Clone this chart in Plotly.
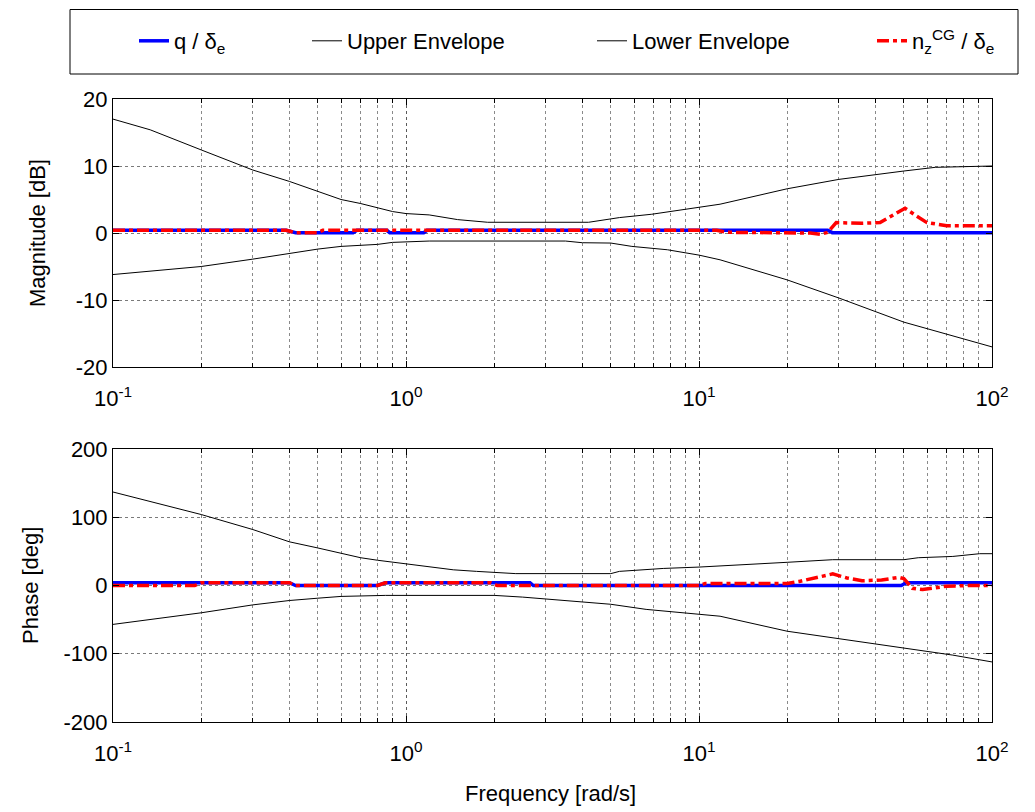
import plotly.graph_objects as go

# ---------------- data ----------------
# Magnitude [dB]
mag_upper_f = [0.1, 0.134, 0.2, 0.3, 0.4, 0.5, 0.6, 0.7, 0.8, 0.9, 1.0, 1.2, 1.5, 1.9, 4.2, 5.35, 6.9, 8.6, 10, 11.8, 20, 30, 50, 64, 100]
mag_upper = [17.0, 15.4, 12.4, 9.4, 7.7, 6.2, 5.0, 4.4, 3.8, 3.2, 2.9, 2.7, 2.0, 1.6, 1.6, 2.3, 2.8, 3.4, 3.8, 4.3, 6.6, 8.0, 9.25, 9.8, 10.0]

mag_lower_f = [0.1, 0.2, 0.3, 0.4, 0.5, 0.6, 0.8, 0.9, 1.2, 3.5, 4.0, 5.0, 5.9, 7.8, 10, 11.8, 20, 30, 50, 100]
mag_lower = [-6.2, -5.0, -3.9, -3.0, -2.4, -2.0, -1.7, -1.4, -1.2, -1.2, -1.45, -1.5, -2.0, -2.5, -3.3, -4.0, -7.0, -9.7, -13.3, -17.0]

mag_q_f = [0.1, 0.39, 0.42, 0.66, 0.68, 0.86, 0.88, 1.15, 1.18, 27.5, 28.5, 100]
mag_q = [0.4, 0.4, 0.05, 0.05, 0.4, 0.4, 0.05, 0.05, 0.4, 0.4, 0.05, 0.05]

mag_nz_f = [0.1, 0.39, 0.42, 0.5, 0.52, 11.5, 12.5, 20, 24, 26, 27.5, 29.4, 36, 41.5, 46, 50.5, 55, 60, 70, 100]
mag_nz = [0.4, 0.4, 0.05, 0.05, 0.4, 0.4, 0.1, 0.05, 0.0, -0.2, 0.1, 1.55, 1.45, 1.55, 2.6, 3.7, 2.6, 1.55, 1.1, 1.1]

# Phase [deg]
ph_upper_f = [0.1, 0.2, 0.3, 0.4, 0.5, 0.6, 0.7, 0.8, 1.0, 1.2, 1.45, 1.74, 2.37, 5.0, 5.35, 7.55, 10, 20, 28.6, 50, 56, 73.5, 90.8, 100]
ph_upper = [137, 104, 82, 64, 55, 47.5, 40.7, 37, 32, 27, 23, 20.7, 17.4, 17.4, 20.7, 25, 27, 34, 37.8, 37.8, 40.7, 42.6, 46.6, 46.6]

ph_lower_f = [0.1, 0.2, 0.3, 0.4, 0.5, 0.6, 0.85, 2.0, 2.5, 3.0, 3.55, 5.0, 6.6, 10, 11.8, 20, 30, 50, 73.5, 100]
ph_lower = [-57, -40, -28.4, -22, -18.6, -16, -14.5, -14.5, -17, -20, -22.7, -27.5, -35, -42, -45, -67, -78, -92, -102, -112]

ph_q_f = [0.1, 0.4, 0.42, 0.8, 0.85, 2.65, 2.72, 49, 51, 100]
ph_q = [4, 4, 0, 0, 4, 4, 0, 0, 4, 4]

ph_nz_f = [0.1, 0.19, 0.2, 0.4, 0.42, 0.8, 0.85, 1.95, 2.05, 10, 10.5, 20, 22, 28.6, 32, 36, 42, 48, 50, 53.5, 58, 70, 85, 100]
ph_nz = [0, 0, 4, 4, 0, 0, 4, 4, 0, 0, 3, 3, 6, 17, 11, 7, 8, 12, 10, -4, -6, -1, 0, 0]

# labels
names = ["q / δ<sub>e</sub>", "Upper Envelope", "Lower Envelope", "n<sub>z</sub><sup>CG</sup> / δ<sub>e</sub>"]
x_tickvals = [0.1, 1, 10, 100]
x_ticktext = ["10<sup>-1</sup>", "10<sup>0</sup>", "10<sup>1</sup>", "10<sup>2</sup>"]
x_minor = [m * d for d in (0.1, 1, 10) for m in range(2, 10)]
mag_ticks = [-20, -10, 0, 10, 20]
ph_ticks = [-200, -100, 0, 100, 200]
x_title = "Frequency [rad/s]"
mag_title = "Magnitude [dB]"
ph_title = "Phase [deg]"

FONT = "Arial, Liberation Sans, sans-serif"
BLUE = "#0000FF"
RED = "#FF0000"

fig = go.Figure()

legend_ids = ["legend", "legend2", "legend3", "legend4"]

def add_set(fq, q, fu, u, fl, l, fn, n, xa, ya, show):
    fig.add_trace(go.Scatter(x=fq, y=q, mode="lines", name=names[0], xaxis=xa, yaxis=ya,
                             line=dict(color=BLUE, width=3.5), showlegend=show, legend=legend_ids[0]))
    fig.add_trace(go.Scatter(x=fu, y=u, mode="lines", name=names[1], xaxis=xa, yaxis=ya,
                             line=dict(color="black", width=1), showlegend=show, legend=legend_ids[1]))
    fig.add_trace(go.Scatter(x=fl, y=l, mode="lines", name=names[2], xaxis=xa, yaxis=ya,
                             line=dict(color="black", width=1), showlegend=show, legend=legend_ids[2]))
    fig.add_trace(go.Scatter(x=fn, y=n, mode="lines", name=names[3], xaxis=xa, yaxis=ya,
                             line=dict(color=RED, width=3.5, dash="12px,4px,4px,4px"),
                             showlegend=show, legend=legend_ids[3]))

add_set(mag_q_f, mag_q, mag_upper_f, mag_upper, mag_lower_f, mag_lower, mag_nz_f, mag_nz, "x", "y", True)
add_set(ph_q_f, ph_q, ph_upper_f, ph_upper, ph_lower_f, ph_lower, ph_nz_f, ph_nz, "x2", "y2", False)

# page offset (default body margin of the html page)
OFF = 8
W, H = 1035, 812
# desired screen positions of the plot area
SX0, SX1, SY0, SY1 = 113, 992, 99, 722
L = SX0 - OFF
T = SY0 - OFF
pw = SX1 - SX0
ph = SY1 - SY0
R = W - L - pw
B = H - T - ph

def py(spix):  # screen pixel y -> paper y
    return 1 + (SY0 - spix) / ph

def px(spix):  # screen pixel x -> paper x
    return (spix - SX0) / pw

xaxis_common = dict(
    type="log", range=[-1, 2], tickmode="array", tickvals=x_tickvals, ticktext=x_ticktext,
    ticks="inside", ticklen=6, tickcolor="black", showline=True, linecolor="black", linewidth=1,
    mirror="allticks", showgrid=True, gridcolor="#5a5a5a", griddash="dot", gridwidth=1,
    zeroline=False, tickfont=dict(family=FONT, size=22, color="black"), automargin=False,
    ticklabelstandoff=12,
    minor=dict(tickmode="array", tickvals=x_minor, ticks="inside", ticklen=4, tickcolor="black",
               showgrid=True, gridcolor="#8a8a8a", griddash="dot", gridwidth=1),
)
yaxis_common = dict(
    ticks="inside", ticklen=6, tickcolor="black", showline=True, linecolor="black", linewidth=1,
    mirror="allticks", showgrid=True, gridcolor="#7a7a7a", griddash="dot", zeroline=False,
    tickfont=dict(family=FONT, size=22, color="black"), automargin=False, tickmode="array",
)

top_lo = (SY1 - 367) / ph
bot_hi = (SY1 - 449) / ph

fig.update_layout(
    width=W, height=H, margin=dict(l=L, r=R, t=T, b=B, autoexpand=False),
    paper_bgcolor="white", plot_bgcolor="white",
    font=dict(family=FONT, size=22, color="black"),
    xaxis=dict(xaxis_common, domain=[0, 1], anchor="y"),
    yaxis=dict(yaxis_common, domain=[top_lo, 1], range=[-20, 20], tickvals=mag_ticks,
               ticktext=[str(v) for v in mag_ticks], anchor="x"),
    xaxis2=dict(xaxis_common, domain=[0, 1], anchor="y2"),
    yaxis2=dict(yaxis_common, domain=[0, bot_hi], range=[-200, 200], tickvals=ph_ticks,
                ticktext=[str(v) for v in ph_ticks], anchor="x2"),
    showlegend=True,
)

# axis titles placed as annotations at the reference positions
fig.add_annotation(text=mag_title, xref="paper", yref="paper", x=px(38), y=py(233),
                   textangle=-90, showarrow=False, xanchor="center", yanchor="middle",
                   font=dict(family=FONT, size=22, color="black"))
fig.add_annotation(text=ph_title, xref="paper", yref="paper", x=px(30), y=py(586),
                   textangle=-90, showarrow=False, xanchor="center", yanchor="middle",
                   font=dict(family=FONT, size=22, color="black"))
fig.add_annotation(text=x_title, xref="paper", yref="paper", x=px(550), y=py(793),
                   showarrow=False, xanchor="center", yanchor="middle",
                   font=dict(family=FONT, size=22, color="black"))

legend_text_px = [175, 348, 633, 913]
for lid, tx in zip(legend_ids, legend_text_px):
    fig.update_layout({lid: dict(x=px(tx - 41), xanchor="left", y=py(41), yanchor="middle",
                                 orientation="h", bgcolor="rgba(0,0,0,0)", borderwidth=0,
                                 font=dict(family=FONT, size=22, color="black"))})

fig.add_shape(type="rect", xref="paper", yref="paper", x0=px(70), x1=px(1018), y0=py(74), y1=py(9.5),
              line=dict(color="black", width=1), fillcolor="rgba(0,0,0,0)")

fig.write_html("out.html")
